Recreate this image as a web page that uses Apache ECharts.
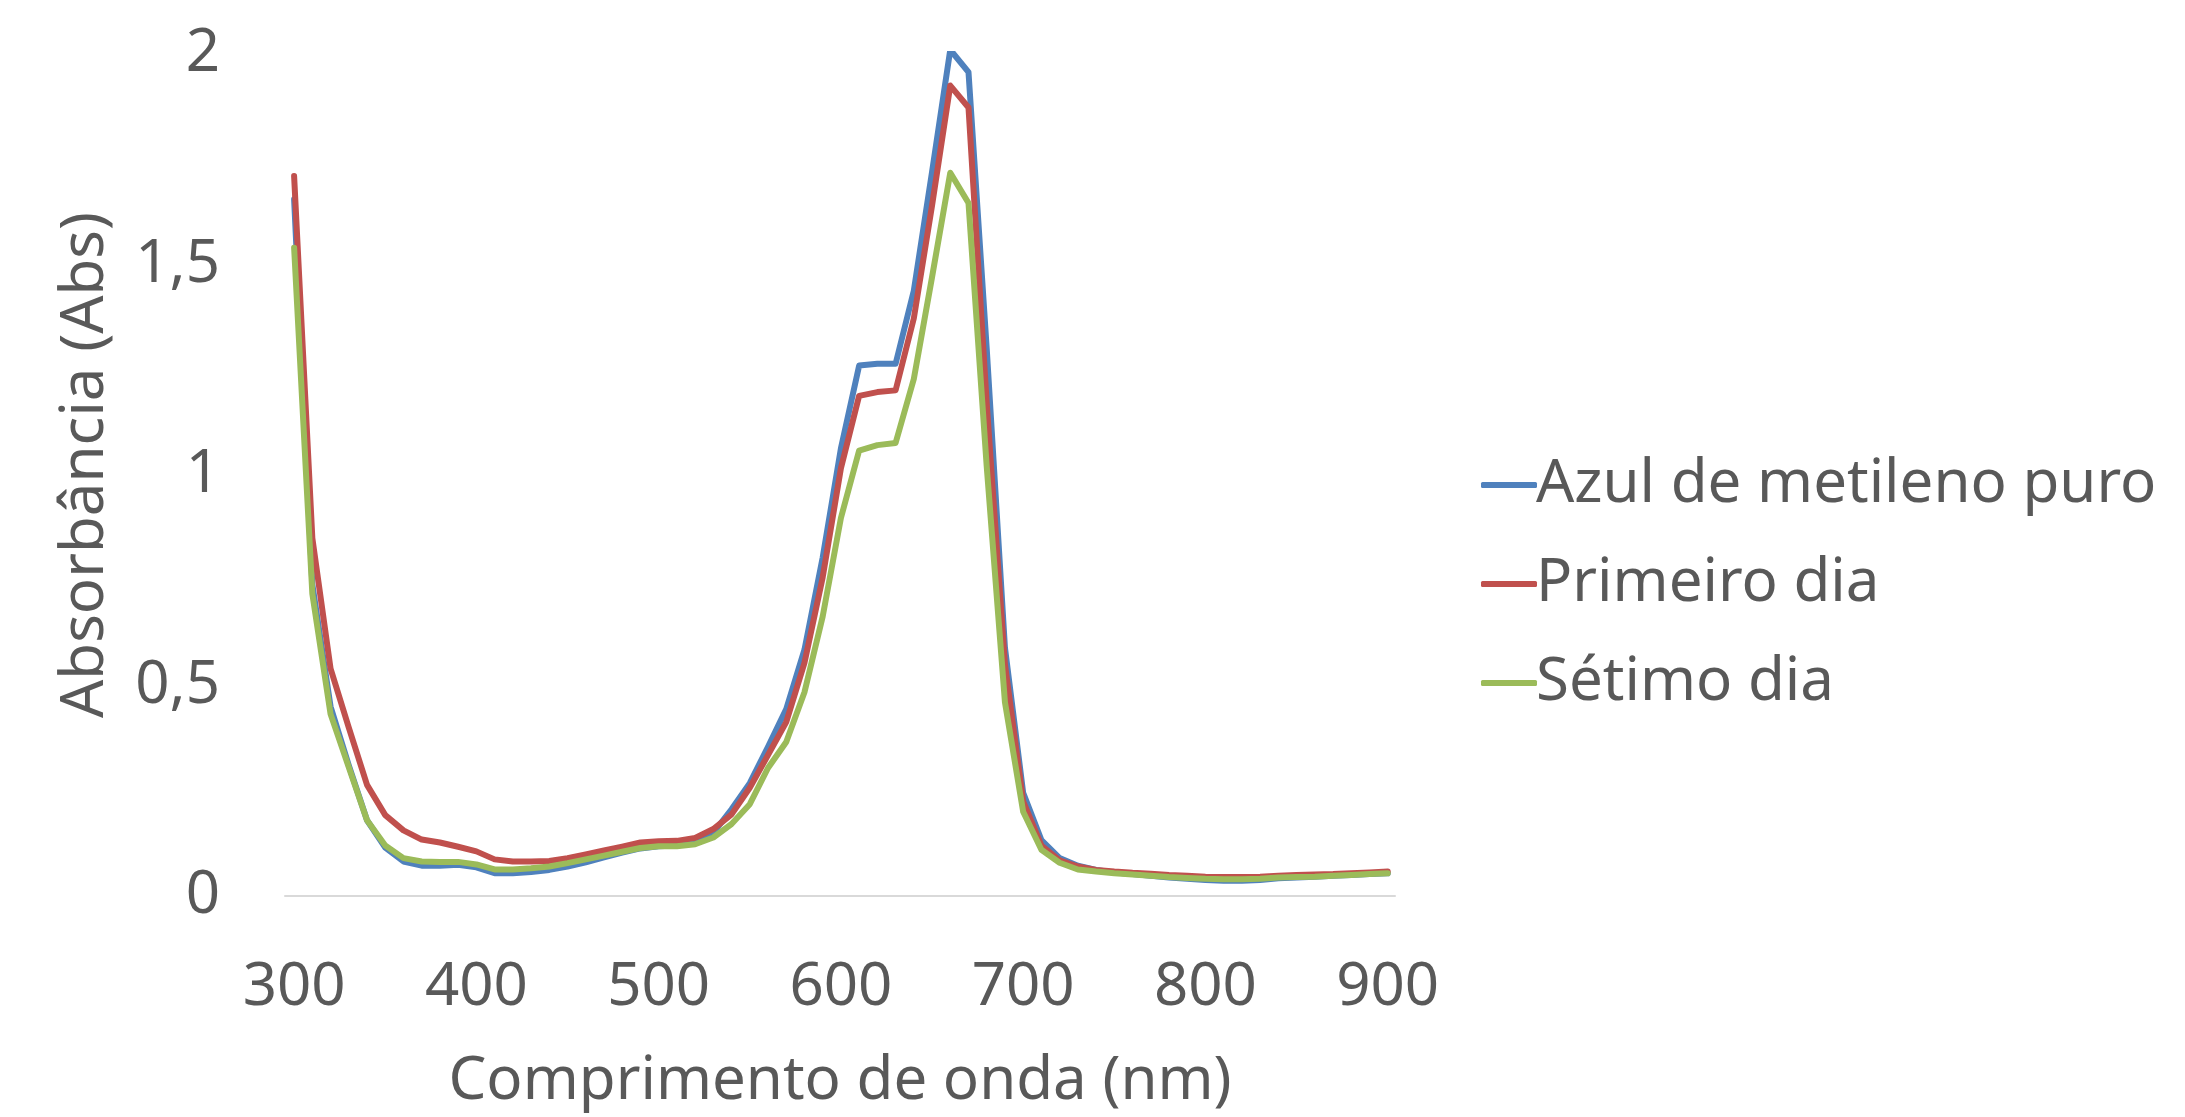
<!DOCTYPE html>
<html>
<head>
<meta charset="utf-8">
<script src="https://cdn.jsdelivr.net/npm/echarts@6/dist/echarts.min.js"></script>
<style>
html,body{margin:0;padding:0;background:#fff;}
#chart{width:2185px;height:1117px;}
</style>
</head>
<body>
<div id="chart"></div>
<script>
const wavelengths = [300,310,320,330,340,350,360,370,380,390,400,410,420,430,440,450,460,470,480,490,500,510,520,530,540,550,560,570,580,590,600,610,620,630,640,650,660,670,680,690,700,710,720,730,740,750,760,770,780,790,800,810,820,830,840,850,860,870,880,890,900];

const seriesNames = ['Azul de metileno puro', 'Primeiro dia', 'Sétimo dia'];

const azulPuro = [1.655,0.74,0.45,0.31,0.18,0.115,0.082,0.072,0.072,0.074,0.068,0.054,0.054,0.057,0.062,0.070,0.080,0.092,0.103,0.113,0.118,0.120,0.127,0.150,0.206,0.268,0.354,0.444,0.585,0.804,1.063,1.260,1.264,1.264,1.438,1.72,2.01,1.957,1.30,0.59,0.245,0.133,0.090,0.072,0.062,0.056,0.052,0.048,0.044,0.041,0.038,0.036,0.036,0.038,0.042,0.044,0.046,0.048,0.050,0.052,0.054];

const primeiroDia = [1.71,0.85,0.54,0.40,0.264,0.192,0.156,0.134,0.127,0.117,0.106,0.087,0.082,0.082,0.083,0.090,0.099,0.108,0.117,0.127,0.130,0.131,0.138,0.159,0.194,0.257,0.335,0.413,0.554,0.757,1.016,1.188,1.197,1.201,1.372,1.64,1.925,1.873,1.17,0.55,0.225,0.12,0.085,0.070,0.062,0.058,0.055,0.053,0.050,0.048,0.046,0.045,0.045,0.046,0.048,0.050,0.051,0.052,0.054,0.056,0.058];

const setimoDia = [1.54,0.718,0.432,0.306,0.180,0.120,0.090,0.082,0.081,0.081,0.075,0.063,0.063,0.066,0.070,0.078,0.087,0.096,0.105,0.114,0.118,0.118,0.123,0.139,0.171,0.218,0.304,0.366,0.484,0.664,0.898,1.058,1.071,1.076,1.228,1.47,1.718,1.646,1.02,0.46,0.200,0.110,0.079,0.063,0.058,0.054,0.051,0.048,0.045,0.043,0.041,0.040,0.040,0.041,0.044,0.045,0.046,0.048,0.050,0.052,0.054];

const xTitle = 'Comprimento de onda (nm)';
const yTitle = 'Absorbância (Abs)';
const colors = ['#4F81BD', '#C0504D', '#9BBB59'];

const FONT = '"Noto Sans", "Open Sans", sans-serif';
const TXT = '#595959';

function pairs(vals) { return wavelengths.map((w, i) => [w, vals[i]]); }

const allVals = [azulPuro, primeiroDia, setimoDia];

const chart = echarts.init(document.getElementById('chart'), null, {renderer: 'canvas'});
chart.setOption({
  animation: false,
  backgroundColor: '#ffffff',
  color: colors,
  grid: {left: 285, right: 790, top: 54, bottom: 211, containLabel: false},
  xAxis: {
    type: 'value',
    min: 295,
    max: 904,
    splitNumber: 6,
    name: xTitle,
    nameLocation: 'middle',
    nameGap: 156,
    nameTextStyle: {fontFamily: FONT, fontSize: 60, color: TXT, lineHeight: 60},
    axisLine: {show: true, lineStyle: {color: '#D9D9D9', width: 2}},
    axisTick: {show: false},
    splitLine: {show: false},
    axisLabel: {
      margin: 62,
      fontFamily: FONT, fontSize: 60, color: TXT, lineHeight: 60,
      formatter: v => (Math.abs(v % 100) < 1e-6 ? String(v) : '')
    }
  },
  yAxis: {
    type: 'value',
    min: 0,
    max: 2,
    interval: 0.5,
    name: yTitle,
    nameLocation: 'middle',
    nameRotate: 90,
    nameGap: 169,
    nameTextStyle: {fontFamily: FONT, fontSize: 60, color: TXT, lineHeight: 60, padding: [0, 0, 0, 20]},
    axisLine: {show: false},
    axisTick: {show: false},
    splitLine: {show: false},
    axisLabel: {
      margin: 65,
      fontFamily: FONT, fontSize: 60, color: TXT, lineHeight: 60,
      padding: [5, 0, 0, 0],
      formatter: v => String(v).replace('.', ',')
    }
  },
  legend: {
    orient: 'vertical',
    left: 1476,
    top: 450,
    itemWidth: 56,
    itemHeight: 6,
    itemGap: 39,
    icon: 'roundRect',
    textStyle: {fontFamily: FONT, fontSize: 60, color: TXT, lineHeight: 60, padding: [0, 0, 0, -6]},
    data: seriesNames
  },
  series: seriesNames.map((n, i) => ({
    name: n,
    type: 'line',
    data: pairs(allVals[i]),
    symbol: 'none',
    smooth: false,
    clip: true,
    lineStyle: {width: 6, color: colors[i], cap: 'round', join: 'round'},
    itemStyle: {color: colors[i]}
  }))
});
</script>
</body>
</html>
